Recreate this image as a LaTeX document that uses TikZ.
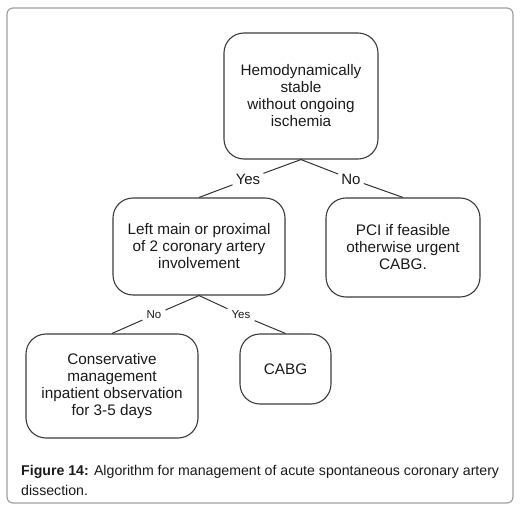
\documentclass[tikz,border=0pt]{standalone}
\usepackage{fontspec}
\setmainfont{Liberation Sans}
\begin{document}
\begin{tikzpicture}[x=1pt,y=-1pt,
  box/.style={draw=boxc, line width=1.1pt, rounded corners=20pt, align=center,
    font=\fontsize{15.3}{17}\selectfont, text=txt, inner sep=0pt},
  biglab/.style={font=\fontsize{15}{17}\selectfont, text=txt, inner sep=3pt},
  smalllab/.style={font=\fontsize{11.5}{13}\selectfont, text=txt, inner sep=4pt},
  conn/.style={draw=linec, line width=1pt}]
\definecolor{boxc}{HTML}{3C3C3C}
\definecolor{linec}{HTML}{333333}
\definecolor{txt}{HTML}{1A1A1A}
\definecolor{framec}{HTML}{A0A0A0}
\useasboundingbox (0,0) rectangle (520,511);
\draw[framec, line width=1.2pt, rounded corners=6pt] (7,8) rectangle (513,503);

\node[box, minimum width=154pt, minimum height=126pt] (top) at (301,96)
  {Hemodynamically\\stable\\without ongoing\\ischemia};
\node[box, minimum width=172pt, minimum height=97pt] (lm) at (199,246.5)
  {Left main or proximal\\of 2 coronary artery\\involvement};
\node[box, minimum width=154pt, minimum height=99pt] (pci) at (403,247.5)
  {PCI if feasible\\otherwise urgent\\CABG.};
\node[box, minimum width=172pt, minimum height=104pt] (cons) at (112,386)
  {Conservative\\management\\inpatient observation\\for 3-5 days};
\node[box, minimum width=91pt, minimum height=70pt] (cabg) at (285.5,369)
  {CABG};

\node[biglab] (yes1) at (248,179) {Yes};
\node[biglab] (no1) at (351,179) {No};
\node[smalllab] (no2) at (154,315) {No};
\node[smalllab] (yes2) at (241,315) {Yes};

\draw[conn] (top.south) -- (yes1);
\draw[conn] (yes1) -- (lm.north);
\draw[conn] (top.south) -- (no1);
\draw[conn] (no1) -- (pci.north);
\draw[conn] (lm.south) -- (no2);
\draw[conn] (no2) -- (cons.north);
\draw[conn] (lm.south) -- (yes2);
\draw[conn] (yes2) -- (cabg.north);

\node[anchor=west, align=left, font=\fontsize{14.15}{20}\selectfont, text=txt, inner sep=0pt] (cap) at (21,480)
  {\textbf{Figure 14:} Algorithm for management of acute spontaneous coronary artery\\dissection.};
\end{tikzpicture}
\end{document}
